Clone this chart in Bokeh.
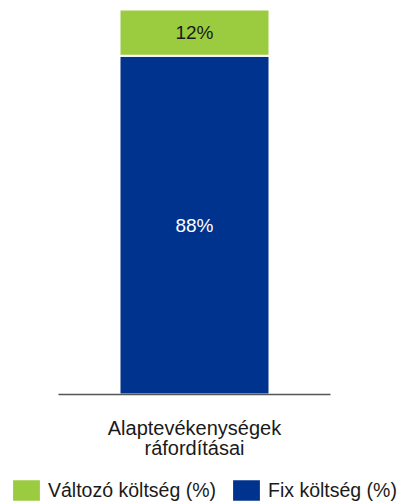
from bokeh.plotting import figure
from bokeh.models import ColumnDataSource, Range1d, Legend, LegendItem
from bokeh.core.properties import value
from bokeh.embed import file_html
from bokeh.resources import INLINE

# ---- data ----
category_lines = ["Alaptevékenységek", "ráfordításai"]
fix_cost = [88]
variable_cost = [12]
series_names = ["Változó költség (%)", "Fix költség (%)"]
bar_labels_fix = ["88%"]
bar_labels_var = ["12%"]

BLUE = "#00338D"
GREEN = "#9BCB3F"
FONT = "Liberation Sans"

W, H = 403, 504
ax_left_px, ax_w_px = 58, 272
frame_bottom_px, px_per_unit = 394, 3.85

x0 = -ax_left_px / ax_w_px
x1 = (W - ax_left_px) / ax_w_px
y1 = 100 + 9 / px_per_unit
y0 = -(H - frame_bottom_px) / px_per_unit

p = figure(width=W, height=H, output_backend="svg", toolbar_location=None,
           x_range=Range1d(x0, x1), y_range=Range1d(y0, y1),
           min_border=0, min_border_left=0, min_border_right=0,
           min_border_top=0, min_border_bottom=0)
p.axis.visible = False
p.grid.visible = False
p.outline_line_color = None
p.background_fill_color = "white"

src = ColumnDataSource(dict(x=[0.5], fix=fix_cost, var=variable_cost))
rs = p.vbar_stack(["fix", "var"], x="x", width=150 / ax_w_px, source=src,
                  color=[BLUE, GREEN], line_color="white", line_width=2)

# axis baseline
p.segment(x0=[0], y0=[0], x1=[1], y1=[0], line_color="#555555", line_width=1.5)

# bar value labels
p.text(x=[0.5], y=[fix_cost[0] / 2], text=bar_labels_fix, text_color="white",
       text_font=value(FONT), text_font_size="19px", text_align="center",
       text_baseline="middle")
p.text(x=[0.5], y=[fix_cost[0] + variable_cost[0] / 2], text=bar_labels_var,
       text_color="#1a1a1a", text_font=value(FONT), text_font_size="19px",
       text_align="center", text_baseline="middle")

# category label (two lines)
p.text(x=[0.5, 0.5], y=[-8.70, -13.90], text=category_lines, text_color="#1a1a1a",
       text_font=value(FONT), text_font_size="20px", text_align="center",
       text_baseline="middle")

legend = Legend(items=[LegendItem(label=series_names[0], renderers=[rs[1]]),
                       LegendItem(label=series_names[1], renderers=[rs[0]])],
                orientation="horizontal", location=(8, 0),
                glyph_width=36, glyph_height=28, label_height=28,
                label_standoff=4, spacing=12, padding=0, margin=0,
                border_line_alpha=0, background_fill_alpha=0,
                label_text_font=FONT, label_text_font_size="19.5px",
                label_text_color="#1a1a1a")
p.add_layout(legend)

open("out.html", "w").write(file_html(p, INLINE))
